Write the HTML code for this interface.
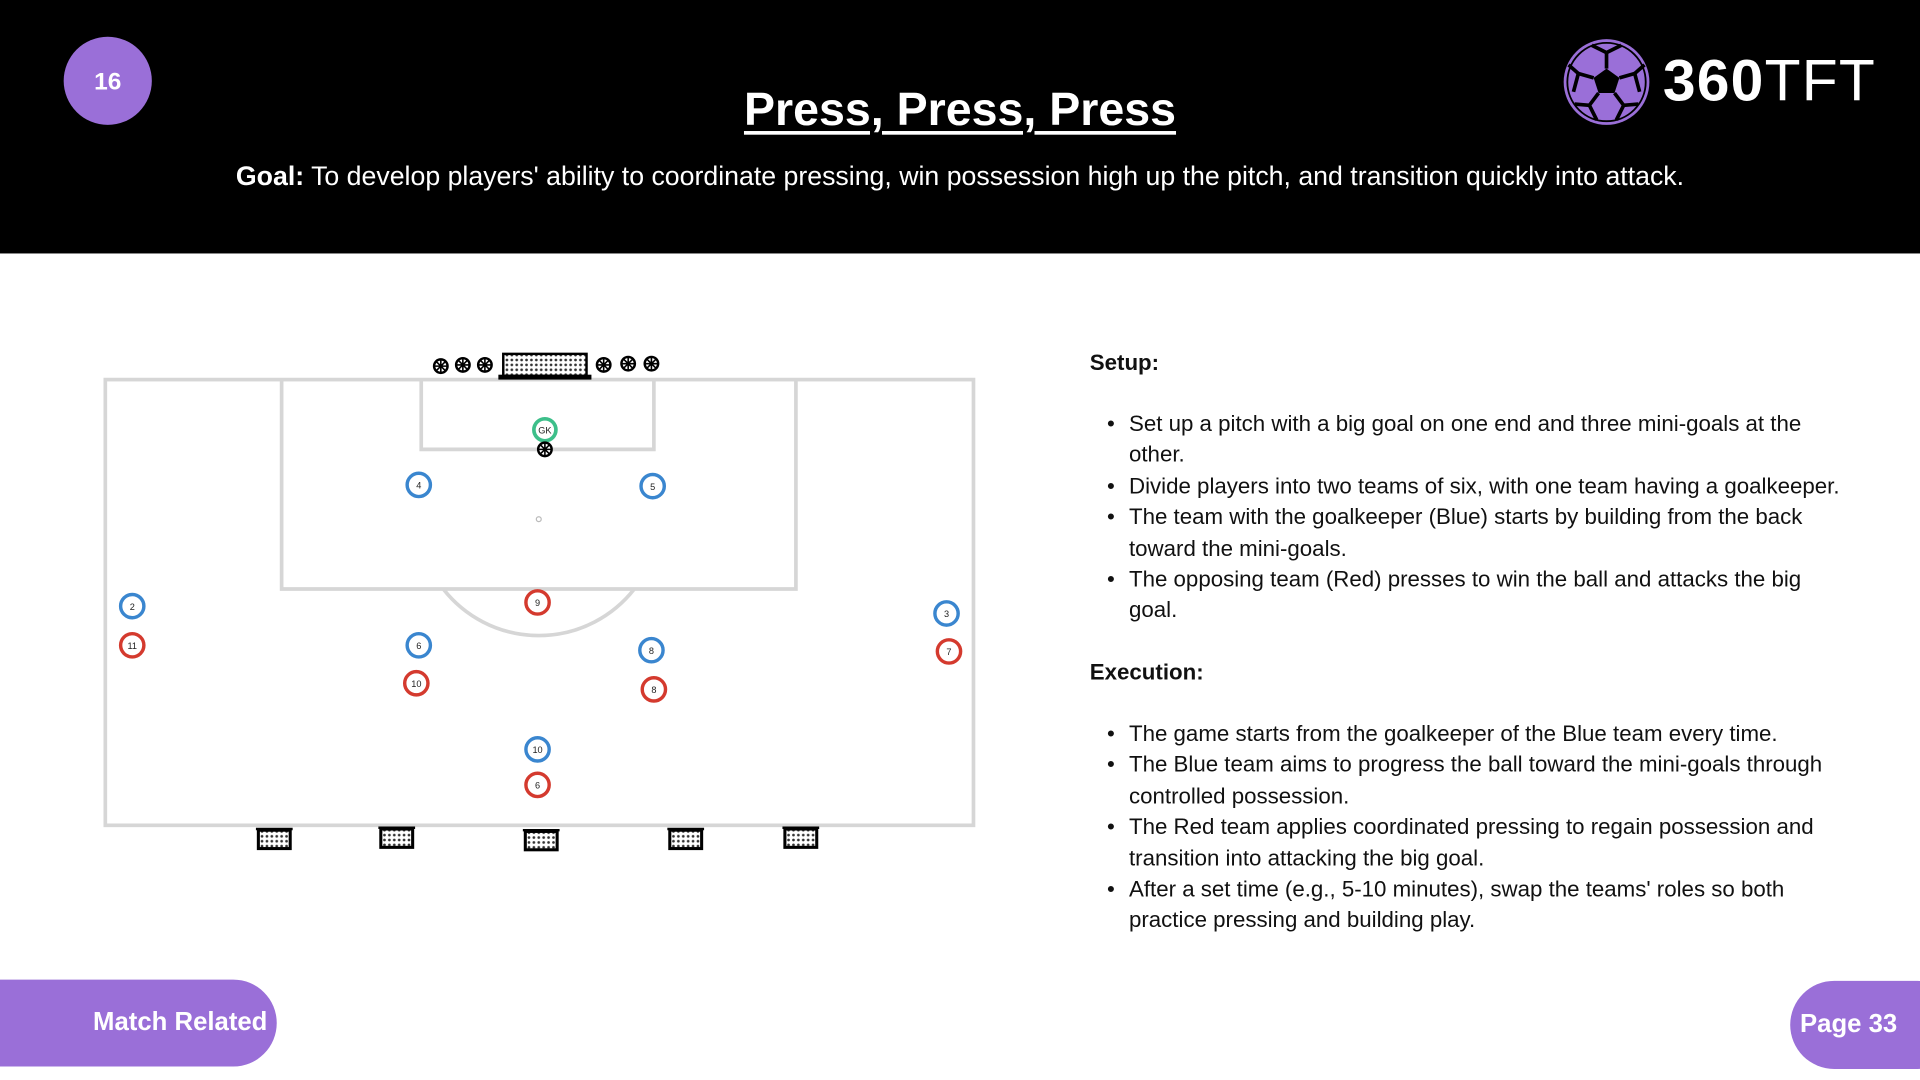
<!DOCTYPE html>
<html><head><meta charset="utf-8"><style>
html,body{margin:0;padding:0;width:1920px;height:1080px;overflow:hidden;background:#fff}
#s{position:absolute;left:0;top:0;width:1568px;height:882px;transform:scale(1.22449);transform-origin:0 0;font-family:"Liberation Sans",Arial,sans-serif}
.hdr{position:absolute;left:0;top:0;width:1568px;height:207px;background:#000}
.num{position:absolute;left:52px;top:30px;width:72px;height:72px;border-radius:50%;background:#9a6fd8;color:#fff;font-weight:bold;font-size:20px;text-align:center;line-height:74px}
.title{position:absolute;left:0;width:1568px;top:69px;text-align:center;color:#fff;font-weight:bold;font-size:38px;text-decoration:underline;text-decoration-thickness:3px;text-underline-offset:5px}
.goal{position:absolute;left:0;width:1568px;top:131px;text-align:center;color:#fff;font-size:21.8px}
.logo{position:absolute;left:1358px;top:37px;color:#fff;font-size:48px;line-height:60px;letter-spacing:1px}
.txt{position:absolute;left:890px;font-size:18.2px;color:#111;line-height:25.4px;white-space:nowrap}
.b{font-weight:bold}
ul{margin:0;padding:0;list-style:none}
li{position:relative;padding-left:32px}
li:before{content:"•";position:absolute;left:14px}
.pill{position:absolute;background:#9a6fd8;color:#fff;font-weight:bold;font-size:21px}
</style></head><body><div id="s">
<div class="hdr"></div>
<div class="num">16</div>
<div class="title">Press, Press, Press</div>
<div class="goal"><b>Goal:</b> To develop players' ability to coordinate pressing, win possession high up the pitch, and transition quickly into attack.</div>
<svg style="position:absolute;left:1274px;top:29px" width="76" height="76" viewBox="-38 -38 76 76">
<circle r="35" fill="#9a6fd8"/><circle r="32" fill="none" stroke="#000" stroke-width="1.5"/>
<polygon points="0,-11 10.5,-3.4 6.5,9 -6.5,9 -10.5,-3.4" fill="#000"/>
<g stroke="#000" stroke-width="3"><line x1="0" y1="-11" x2="0" y2="-24"/><line x1="10.5" y1="-3.4" x2="23" y2="-7"/><line x1="6.5" y1="9" x2="14" y2="19"/><line x1="-6.5" y1="9" x2="-14" y2="19"/><line x1="-10.5" y1="-3.4" x2="-23" y2="-7"/>
<line x1="0" y1="-24" x2="-12" y2="-30"/><line x1="0" y1="-24" x2="12" y2="-30"/><line x1="23" y1="-7" x2="31" y2="-14"/><line x1="23" y1="-7" x2="27" y2="8"/><line x1="14" y1="19" x2="26" y2="18"/><line x1="14" y1="19" x2="8" y2="31"/><line x1="-14" y1="19" x2="-26" y2="18"/><line x1="-14" y1="19" x2="-8" y2="31"/><line x1="-23" y1="-7" x2="-31" y2="-14"/><line x1="-23" y1="-7" x2="-27" y2="8"/></g>
</svg>
<div class="logo"><b>360</b>TFT</div>

<svg style="position:absolute;left:0;top:0" width="900" height="720" viewBox="0 0 900 720">
<defs><pattern id="net" width="4" height="4" patternUnits="userSpaceOnUse"><rect width="4" height="4" fill="#fff"/><circle cx="2" cy="2" r="1.1" fill="#333"/></pattern>
<g id="ball"><circle r="5.5" fill="#fff" stroke="#000" stroke-width="2"/><path d="M0,-5.5V5.5M-5.5,0H5.5M-3.8,-3.8L3.8,3.8M3.8,-3.8L-3.8,3.8" stroke="#000" stroke-width="1.3"/></g>
<g id="mg"><rect x="-13" y="-7" width="26" height="15" fill="url(#net)" stroke="#000" stroke-width="2.5"/><line x1="-15" y1="-8" x2="15" y2="-8" stroke="#000" stroke-width="2"/></g></defs>
<g fill="none" stroke="#d6d6d6" stroke-width="3">
<rect x="86" y="310" width="709" height="364"/>
<polyline points="230,310 230,481 650,481 650,310"/>
<polyline points="344,310 344,367 534,367 534,310"/>
<path d="M362,481 A99,99 0 0 0 518,481"/>
</g>
<circle cx="440" cy="424" r="2" fill="none" stroke="#bbb"/>
<rect x="411" y="289" width="68" height="18" fill="url(#net)" stroke="#000" stroke-width="2"/>
<rect x="407" y="306" width="76" height="4" fill="#000"/>
<use href="#ball" x="360" y="299"/><use href="#ball" x="378" y="298"/><use href="#ball" x="396" y="298"/>
<use href="#ball" x="493" y="298"/><use href="#ball" x="513" y="297"/><use href="#ball" x="532" y="297"/>
<use href="#mg" x="224" y="685"/><use href="#mg" x="324" y="684"/><use href="#mg" x="442" y="686"/><use href="#mg" x="560" y="685"/><use href="#mg" x="654" y="684"/>
<g font-family="Liberation Sans,sans-serif" font-size="7.5" text-anchor="middle" fill="#222">
<circle cx="445" cy="351" r="9" fill="#fff" stroke="#3dbf8a" stroke-width="3"/><text x="445" y="354">GK</text>
<use href="#ball" x="445" y="367"/>
<g fill="#fff" stroke="#3a86cf" stroke-width="2.8">
<circle cx="342" cy="396" r="9.5"/><circle cx="533" cy="397" r="9.5"/><circle cx="108" cy="495" r="9.5"/><circle cx="773" cy="501" r="9.5"/><circle cx="342" cy="527" r="9.5"/><circle cx="532" cy="531" r="9.5"/><circle cx="439" cy="612" r="9.5"/></g>
<g fill="#fff" stroke="#d43a2e" stroke-width="2.8">
<circle cx="439" cy="492" r="9.5"/><circle cx="108" cy="527" r="9.5"/><circle cx="340" cy="558" r="9.5"/><circle cx="534" cy="563" r="9.5"/><circle cx="775" cy="532" r="9.5"/><circle cx="439" cy="641" r="9.5"/></g>
<text x="342" y="399">4</text><text x="533" y="400">5</text><text x="108" y="498">2</text><text x="773" y="504">3</text><text x="342" y="530">6</text><text x="532" y="534">8</text><text x="439" y="615">10</text>
<text x="439" y="495">9</text><text x="108" y="530">11</text><text x="340" y="561">10</text><text x="534" y="566">8</text><text x="775" y="535">7</text><text x="439" y="644">6</text>
</g>
</svg>

<div class="txt" style="top:284px"><div class="b">Setup:</div></div>
<div class="txt" style="top:334px"><ul>
<li>Set up a pitch with a big goal on one end and three mini-goals at the<br>other.</li>
<li>Divide players into two teams of six, with one team having a goalkeeper.</li>
<li>The team with the goalkeeper (Blue) starts by building from the back<br>toward the mini-goals.</li>
<li>The opposing team (Red) presses to win the ball and attacks the big<br>goal.</li></ul></div>
<div class="txt" style="top:537px"><div class="b">Execution:</div></div>
<div class="txt" style="top:587px"><ul>
<li>The game starts from the goalkeeper of the Blue team every time.</li>
<li>The Blue team aims to progress the ball toward the mini-goals through<br>controlled possession.</li>
<li>The Red team applies coordinated pressing to regain possession and<br>transition into attacking the big goal.</li>
<li>After a set time (e.g., 5-10 minutes), swap the teams' roles so both<br>practice pressing and building play.</li></ul></div>

<div class="pill" style="left:0;top:800px;width:226px;height:71px;border-radius:0 36px 36px 0"><span style="position:absolute;left:76px;top:23px">Match Related</span></div>
<div class="pill" style="left:1462px;top:801px;width:140px;height:72px;border-radius:36px"><span style="position:absolute;left:8px;top:24px">Page 33</span></div>
</div></body></html>
